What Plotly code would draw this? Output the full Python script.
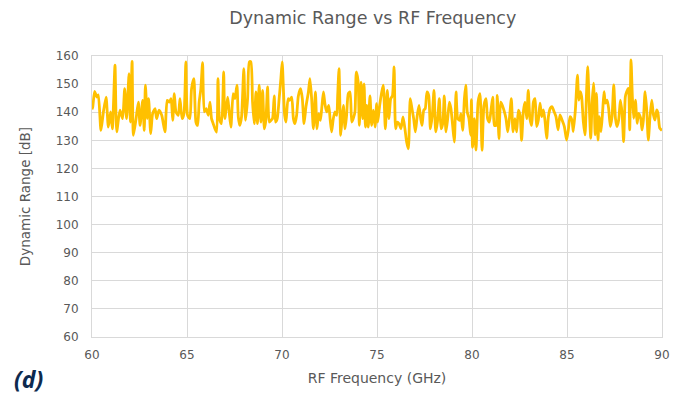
import plotly.graph_objects as go

freq_ghz = [
    60.00, 60.04, 60.14, 60.25, 60.33, 60.47, 60.60, 60.74, 60.86, 60.98, 61.07, 61.21, 61.30, 61.47,
    61.61, 61.72, 61.82, 61.95, 62.02, 62.11, 62.18, 62.32, 62.44, 62.53, 62.67, 62.75, 62.81, 62.91,
    62.98, 63.09, 63.19, 63.32, 63.40, 63.53, 63.67, 63.84, 63.96, 64.07, 64.16, 64.25, 64.33, 64.42,
    64.54, 64.63, 64.74, 64.84, 64.94, 65.03, 65.15, 65.24, 65.36, 65.47, 65.56, 65.64, 65.73, 65.82,
    65.91, 66.01, 66.12, 66.21, 66.29, 66.38, 66.47, 66.56, 66.63, 66.71, 66.82, 66.93, 66.99, 67.14,
    67.22, 67.31, 67.43, 67.52, 67.63, 67.70, 67.78, 67.87, 67.99, 68.08, 68.19, 68.28, 68.36, 68.45,
    68.54, 68.63, 68.71, 68.80, 68.89, 68.98, 69.07, 69.15, 69.24, 69.33, 69.42, 69.50, 69.59, 69.66,
    69.75, 69.85, 69.94, 70.01, 70.08, 70.14, 70.21, 70.32, 70.40, 70.51, 70.60, 70.68, 70.77, 70.86,
    70.98, 71.07, 71.16, 71.26, 71.39, 71.47, 71.56, 71.65, 71.76, 71.84, 71.93, 72.02, 72.09, 72.18,
    72.26, 72.35, 72.46, 72.53, 72.61, 72.70, 72.79, 72.88, 72.93, 73.00, 73.09, 73.16, 73.23, 73.32,
    73.40, 73.49, 73.58, 73.67, 73.75, 73.84, 73.91, 74.00, 74.07, 74.16, 74.25, 74.32, 74.39, 74.46,
    74.54, 74.63, 74.72, 74.81, 74.90, 74.98, 75.04, 75.14, 75.25, 75.33, 75.44, 75.54, 75.63, 75.72,
    75.81, 75.90, 75.98, 76.07, 76.16, 76.26, 76.37, 76.47, 76.56, 76.65, 76.75, 76.84, 76.93, 77.02,
    77.12, 77.21, 77.30, 77.37, 77.46, 77.54, 77.63, 77.72, 77.81, 77.91, 78.00, 78.09, 78.18, 78.28,
    78.37, 78.46, 78.54, 78.63, 78.72, 78.81, 78.89, 78.98, 79.07, 79.16, 79.25, 79.35, 79.42, 79.51,
    79.60, 79.67, 79.75, 79.84, 79.93, 79.97, 80.03, 80.12, 80.21, 80.32, 80.42, 80.53, 80.63, 80.74,
    80.82, 80.91, 80.99, 81.09, 81.18, 81.26, 81.33, 81.42, 81.51, 81.60, 81.68, 81.79, 81.88, 81.97,
    82.07, 82.16, 82.26, 82.35, 82.44, 82.53, 82.61, 82.70, 82.79, 82.88, 82.96, 83.05, 83.14, 83.23,
    83.32, 83.40, 83.49, 83.58, 83.67, 83.76, 83.84, 83.93, 84.02, 84.12, 84.21, 84.32, 84.42, 84.53,
    84.63, 84.74, 84.86, 84.98, 85.07, 85.16, 85.26, 85.33, 85.44, 85.55, 85.62, 85.70, 85.77, 85.86,
    85.95, 86.02, 86.09, 86.16, 86.25, 86.32, 86.40, 86.48, 86.55, 86.63, 86.70, 86.79, 86.88, 86.95,
    87.02, 87.11, 87.19, 87.28, 87.37, 87.46, 87.55, 87.63, 87.72, 87.81, 87.90, 87.98, 88.07, 88.14,
    88.23, 88.30, 88.37, 88.44, 88.51, 88.60, 88.69, 88.77, 88.88, 88.95, 89.02, 89.11, 89.19, 89.28,
    89.37, 89.46, 89.55, 89.63, 89.72, 89.79, 89.88, 89.97, 90.00,
]

dynamic_range_db = [
    141.0, 141.9, 147.4, 145.4, 146.2, 133.5, 140.1, 145.4, 134.7, 140.1, 134.1, 156.7, 133.0, 140.7,
    137.7, 148.4, 137.7, 153.7, 136.5, 158.1, 131.8, 137.7, 143.6, 135.3, 144.2, 133.5, 149.6, 137.7,
    144.8, 132.4, 139.5, 141.3, 137.7, 140.7, 138.9, 133.0, 144.2, 143.6, 144.8, 137.1, 146.6, 140.1,
    138.9, 144.8, 137.7, 139.5, 157.9, 138.9, 137.7, 148.4, 151.9, 136.5, 135.3, 143.6, 148.4, 157.6,
    140.1, 141.3, 138.9, 143.6, 137.7, 135.9, 134.1, 132.9, 151.9, 137.7, 135.9, 154.3, 137.7, 145.4,
    140.1, 134.7, 146.6, 144.8, 149.6, 138.3, 135.3, 138.3, 155.5, 137.1, 144.8, 157.9, 157.9, 143.6,
    135.9, 147.2, 135.9, 149.6, 136.5, 147.8, 134.1, 137.1, 149.0, 136.5, 137.1, 137.7, 145.8, 136.5,
    137.7, 144.8, 151.9, 157.9, 147.2, 138.9, 136.5, 144.8, 144.2, 145.4, 137.7, 135.9, 138.9, 145.8,
    148.4, 144.8, 135.9, 141.9, 147.2, 151.9, 144.8, 134.1, 147.2, 134.1, 139.5, 137.1, 141.3, 147.2,
    143.0, 140.1, 142.4, 137.7, 133.0, 137.7, 140.1, 138.9, 145.8, 155.5, 131.8, 137.7, 142.4, 134.1,
    138.9, 146.6, 147.2, 136.5, 137.7, 140.1, 154.3, 151.3, 135.3, 150.7, 137.7, 150.1, 134.7, 142.4,
    134.7, 145.8, 135.3, 140.7, 134.7, 143.0, 136.5, 142.4, 147.2, 149.6, 134.1, 147.8, 137.7, 144.8,
    145.8, 156.1, 134.1, 136.5, 135.9, 134.1, 138.3, 134.1, 129.4, 127.0, 144.8, 141.3, 137.7, 133.0,
    138.9, 142.4, 137.7, 135.3, 140.7, 141.3, 147.2, 146.0, 134.1, 138.9, 147.8, 133.0, 136.5, 144.8,
    134.1, 135.9, 145.8, 133.0, 137.7, 143.6, 141.3, 135.3, 129.4, 147.2, 137.7, 137.1, 139.5, 133.5,
    144.8, 149.6, 140.1, 137.7, 131.8, 144.5, 127.5, 137.7, 126.5, 143.6, 146.6, 126.4, 142.4, 144.8,
    137.7, 136.5, 140.1, 145.4, 135.3, 135.3, 146.0, 130.6, 143.6, 142.4, 140.7, 137.7, 133.0, 137.7,
    144.8, 133.0, 137.7, 133.0, 140.7, 138.9, 130.0, 140.1, 143.6, 137.7, 147.8, 137.7, 135.3, 143.6,
    144.8, 134.9, 137.1, 143.2, 138.4, 140.8, 137.2, 130.7, 138.4, 141.4, 142.0, 140.2, 138.4, 133.7,
    139.0, 137.2, 134.9, 130.1, 133.7, 138.4, 137.2, 133.1, 140.8, 153.2, 144.3, 147.3, 145.5, 136.6,
    131.9, 145.5, 156.2, 144.3, 130.7, 143.2, 150.3, 131.9, 146.7, 130.1, 138.4, 133.1, 140.8, 147.3,
    143.2, 144.3, 141.4, 134.9, 138.4, 149.7, 137.8, 134.9, 137.2, 144.3, 139.6, 129.5, 145.5, 147.3,
    148.5, 133.7, 158.6, 145.5, 137.8, 144.3, 136.0, 139.6, 137.8, 133.7, 137.2, 147.3, 141.4, 130.1,
    138.4, 144.3, 139.0, 137.2, 140.8, 139.6, 134.3, 133.7, 133.5,
]

x_ticks = [60, 65, 70, 75, 80, 85, 90]
y_ticks = [60, 70, 80, 90, 100, 110, 120, 130, 140, 150, 160]

grid = "#d9d9d9"
txt = "#595959"
font_family = "DejaVu Sans, Open Sans, sans-serif"

fig = go.Figure()
fig.add_trace(go.Scatter(
    x=freq_ghz, y=dynamic_range_db, mode="lines",
    line=dict(color="#FFC000", width=2.8, shape="spline", smoothing=0.6),
    showlegend=False, hoverinfo="x+y",
))

fig.update_layout(
    width=678, height=390,
    margin=dict(l=84, r=24, t=48, b=61),
    paper_bgcolor="white", plot_bgcolor="white",
    font=dict(family=font_family, color=txt, size=12),
    title=dict(text="Dynamic Range vs RF Frequency", x=0.538, xanchor="center",
               y=0.974, yanchor="middle", font=dict(size=17.5, color=txt, family=font_family)),
    xaxis=dict(range=[60, 90], tickvals=x_ticks, ticktext=[str(v) for v in x_ticks],
               showgrid=True, gridcolor=grid, gridwidth=1,
               showline=True, linecolor=grid, mirror=True, zeroline=False,
               ticks="", tickfont=dict(size=12, color=txt), ticklabelstandoff=7,
               title=dict(text="RF Frequency (GHz)", font=dict(size=14, color=txt), standoff=11)),
    yaxis=dict(range=[60, 160], tickvals=y_ticks, ticktext=[str(v) for v in y_ticks],
               showgrid=True, gridcolor=grid, gridwidth=1,
               showline=True, linecolor=grid, mirror=True, zeroline=False,
               ticks="", tickfont=dict(size=12, color=txt), ticklabelstandoff=10,
               title=dict(text="Dynamic Range [dB]", font=dict(size=13.5, color=txt), standoff=21)),
)

fig.add_annotation(text="<b><i>(d)</i></b>", xref="paper", yref="paper",
                   x=-0.140, y=-0.215, xanchor="left", yanchor="bottom", showarrow=False,
                   font=dict(size=23, color="#0E2A4F", family="Open Sans, sans-serif"))

fig.write_html("out.html")
